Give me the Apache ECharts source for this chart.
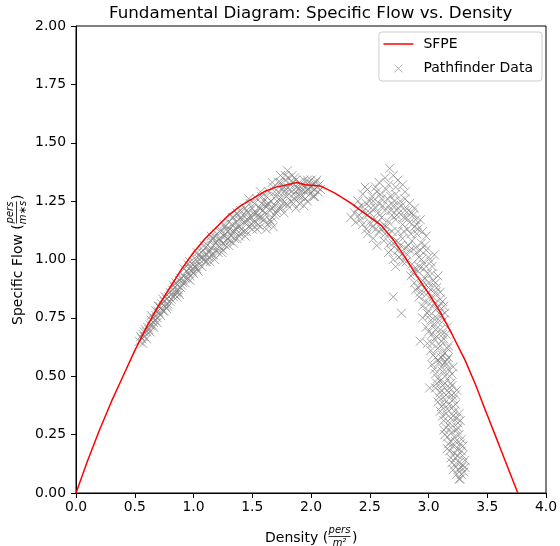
<!DOCTYPE html>
<html>
<head>
<meta charset="utf-8">
<script src="https://cdn.jsdelivr.net/npm/echarts@6/dist/echarts.min.js"></script>
<style>html,body{margin:0;padding:0;background:#fff}#c{width:560px;height:546px}</style>
</head>
<body>
<div id="c"></div>
<script>
const xTicks = [0.0, 0.5, 1.0, 1.5, 2.0, 2.5, 3.0, 3.5, 4.0];
const yTicks = [0.00, 0.25, 0.50, 0.75, 1.00, 1.25, 1.50, 1.75, 2.00];

// SFPE curve (density, specific flow)
const sfpe = [[0,0],[0.1,0.14],[0.2,0.27],[0.3,0.39],[0.4,0.50],[0.5,0.61],[0.6,0.71],[0.7,0.80],[0.8,0.88],[0.9,0.96],[1.0,1.03],[1.1,1.09],[1.2,1.14],[1.3,1.19],[1.4,1.23],[1.5,1.26],[1.6,1.29],[1.7,1.31],[1.8,1.32],[1.88,1.33],[1.95,1.32],[2.08,1.315],[2.2,1.285],[2.33,1.245],[2.45,1.20],[2.6,1.145],[2.7,1.085],[2.8,1.01],[2.9,0.93],[3.01,0.848],[3.1,0.775],[3.2,0.68],[3.31,0.57],[3.4,0.465],[3.46,0.385],[3.5,0.334],[3.6,0.206],[3.7,0.077],[3.76,0]];

// Pathfinder data, free-flow branch
const pathLeft = [
[0.54,0.65],[0.55,0.67],[0.56,0.66],[0.57,0.68],[0.58,0.67],[0.59,0.70],[0.60,0.69],[0.58,0.69],[0.61,0.71],[0.62,0.70],
[0.63,0.72],[0.64,0.74],[0.65,0.72],[0.66,0.75],[0.67,0.74],[0.68,0.76],[0.69,0.75],[0.70,0.78],[0.66,0.73],[0.68,0.78],[0.71,0.77],[0.70,0.80],
[0.72,0.79],[0.73,0.81],[0.74,0.78],[0.75,0.82],[0.76,0.80],[0.77,0.83],[0.78,0.81],[0.79,0.84],[0.80,0.82],[0.80,0.86],[0.74,0.83],[0.77,0.79],[0.81,0.85],
[0.82,0.87],[0.83,0.84],[0.84,0.88],[0.85,0.86],[0.86,0.89],[0.87,0.87],[0.88,0.91],[0.89,0.88],[0.90,0.92],[0.85,0.90],[0.88,0.85],[0.91,0.90],[0.86,0.84],
[0.92,0.93],[0.93,0.90],[0.94,0.95],[0.95,0.92],[0.96,0.96],[0.97,0.93],[0.98,0.97],[0.99,0.95],[1.00,0.99],[1.00,0.94],[0.95,0.98],[0.97,0.91],[1.01,0.97],
[1.02,1.00],[1.03,0.96],[1.04,1.02],[1.05,0.98],[1.06,1.01],[1.07,0.97],[1.08,1.04],[1.09,1.00],[1.10,1.05],[1.10,0.99],[1.04,0.95],[1.07,1.03],[1.11,1.02],
[1.12,1.06],[1.13,1.01],[1.14,1.04],[1.15,1.08],[1.16,1.02],[1.17,1.06],[1.18,1.10],[1.19,1.04],[1.20,1.08],[1.20,1.11],[1.14,0.99],[1.18,1.00],[1.21,1.06],[1.16,1.09],
[1.22,1.09],[1.23,1.05],[1.24,1.12],[1.25,1.07],[1.26,1.10],[1.27,1.14],[1.28,1.08],[1.29,1.12],[1.30,1.16],[1.30,1.06],[1.24,1.03],[1.27,1.11],[1.31,1.13],[1.26,1.15],
[1.32,1.10],[1.33,1.15],[1.34,1.18],[1.35,1.12],[1.36,1.16],[1.37,1.09],[1.38,1.19],[1.39,1.14],[1.40,1.21],[1.40,1.11],[1.34,1.07],[1.37,1.20],[1.41,1.17],[1.36,1.13],
[1.42,1.19],[1.43,1.12],[1.44,1.22],[1.45,1.16],[1.46,1.20],[1.47,1.14],[1.48,1.24],[1.49,1.18],[1.50,1.22],[1.50,1.13],[1.44,1.10],[1.47,1.26],[1.51,1.20],[1.46,1.17],
[1.52,1.24],[1.53,1.16],[1.54,1.26],[1.55,1.19],[1.56,1.22],[1.57,1.14],[1.58,1.27],[1.59,1.21],[1.60,1.25],[1.60,1.17],[1.54,1.13],[1.57,1.29],[1.61,1.23],[1.56,1.18],
[1.62,1.27],[1.63,1.15],[1.64,1.29],[1.65,1.21],[1.66,1.25],[1.67,1.18],[1.68,1.31],[1.69,1.23],[1.70,1.27],[1.70,1.20],[1.64,1.24],[1.67,1.33],[1.71,1.25],[1.66,1.16],[1.62,1.13],[1.68,1.14],
[1.72,1.29],[1.73,1.22],[1.74,1.33],[1.75,1.26],[1.76,1.30],[1.77,1.20],[1.78,1.34],[1.79,1.27],[1.80,1.31],[1.80,1.23],[1.74,1.36],[1.77,1.29],[1.81,1.35],[1.76,1.24],[1.80,1.38],
[1.82,1.30],[1.83,1.25],[1.84,1.33],[1.85,1.28],[1.86,1.35],[1.87,1.22],[1.88,1.31],[1.89,1.27],[1.90,1.33],[1.90,1.24],[1.84,1.36],[1.87,1.29],[1.91,1.30],[1.86,1.26],
[1.92,1.32],[1.93,1.27],[1.94,1.34],[1.95,1.29],[1.96,1.31],[1.97,1.25],[1.98,1.33],[1.99,1.28],[2.00,1.31],[2.00,1.34],[1.94,1.23],[1.97,1.30],
[2.01,1.29],[2.02,1.32],[2.03,1.30],[2.04,1.33],[2.05,1.31],[2.06,1.29],[2.07,1.32],[2.03,1.27],[2.08,1.30],
[0.57,0.64],[0.60,0.66],[0.63,0.69],[0.66,0.71],[0.69,0.73],[0.72,0.76],[0.75,0.78],[0.78,0.80],[0.81,0.83],[0.84,0.85],[0.87,0.86],[0.90,0.89],[0.93,0.92],[0.96,0.94],[0.99,0.96],
[1.02,0.97],[1.05,1.00],[1.08,1.01],[1.11,0.99],[1.13,1.03],[1.15,1.05],[1.17,1.02],[1.19,1.07],[1.21,1.03],[1.23,1.08],[1.25,1.04],[1.27,1.06],[1.29,1.09],[1.31,1.08],[1.33,1.12],
[1.35,1.09],[1.37,1.14],[1.39,1.10],[1.41,1.13],[1.43,1.16],[1.45,1.12],[1.47,1.18],[1.49,1.15],[1.51,1.16],[1.53,1.20],[1.55,1.15],[1.57,1.22],[1.59,1.18],[1.61,1.20],[1.63,1.23],
[1.65,1.17],[1.67,1.22],[1.69,1.19],[1.71,1.21],[1.73,1.26],[1.75,1.22],[1.77,1.31],[1.79,1.24],[1.81,1.28],[1.83,1.32],[1.85,1.24],[1.87,1.34],[1.89,1.30],[1.91,1.27],[1.93,1.30],
[1.95,1.26],[1.97,1.34],[1.99,1.31],[2.02,1.27],[2.05,1.34],[1.78,1.36],[1.72,1.33],[1.69,1.29],[1.58,1.24],[1.52,1.19],[1.45,1.21],[1.39,1.17],[1.33,1.18],[1.28,1.13],[1.22,1.12],
[1.15,1.10],[1.09,1.06],[1.03,1.03],[0.97,0.99],[0.92,0.96],[0.89,0.92],[0.83,0.89],[0.76,0.84],[0.71,0.80],[0.64,0.76]
];

// Pathfinder data, congested branch
const pathRight = [
[2.67,1.39],[2.63,1.35],[2.70,1.36],[2.58,1.33],[2.74,1.34],[2.66,1.32],[2.72,1.31],[2.78,1.32],[2.55,1.31],[2.80,1.29],
[2.44,1.28],[2.48,1.30],[2.52,1.27],[2.56,1.29],[2.60,1.26],[2.64,1.30],[2.68,1.27],[2.72,1.28],[2.76,1.25],[2.80,1.26],[2.84,1.24],[2.88,1.22],[2.50,1.25],[2.58,1.24],[2.66,1.23],[2.74,1.22],[2.46,1.31],
[2.34,1.18],[2.37,1.20],[2.40,1.22],[2.42,1.17],[2.45,1.21],[2.48,1.19],[2.51,1.22],[2.54,1.17],[2.57,1.20],[2.60,1.18],[2.63,1.21],[2.66,1.16],[2.69,1.19],[2.72,1.17],[2.75,1.20],[2.78,1.15],[2.81,1.18],[2.84,1.16],[2.87,1.19],[2.90,1.15],[2.93,1.17],[2.44,1.15],[2.52,1.14],[2.62,1.15],[2.70,1.23],[2.80,1.21],
[2.48,1.11],[2.53,1.09],[2.58,1.12],[2.62,1.08],[2.66,1.11],[2.70,1.07],[2.74,1.12],[2.78,1.09],[2.82,1.13],[2.86,1.08],[2.90,1.11],[2.94,1.07],[2.98,1.10],[2.64,1.14],[2.76,1.06],[2.88,1.14],[2.56,1.06],
[2.66,1.03],[2.70,1.00],[2.74,1.04],[2.78,0.99],[2.82,1.02],[2.86,0.98],[2.90,1.03],[2.94,1.00],[2.98,1.04],[3.02,0.99],[3.05,1.02],[2.80,1.05],[2.92,0.97],[2.72,0.97],
[2.85,0.93],[2.88,0.90],[2.91,0.95],[2.94,0.89],[2.97,0.92],[3.00,0.88],[3.03,0.94],[3.06,0.90],[3.08,0.93],[2.96,0.96],[3.02,0.87],[2.89,0.87],
[2.92,0.84],[2.95,0.80],[2.98,0.85],[3.01,0.81],[3.04,0.84],[3.07,0.79],[3.10,0.83],[3.13,0.80],[3.00,0.78],[3.06,0.86],
[2.70,0.84],[2.77,0.77],
[2.95,0.75],[2.98,0.71],[3.01,0.76],[3.04,0.72],[3.07,0.75],[3.10,0.70],[3.13,0.74],[3.16,0.71],[3.03,0.68],[3.09,0.77],[3.12,0.68],
[2.99,0.64],[3.02,0.61],[3.05,0.66],[3.08,0.62],[3.11,0.65],[3.14,0.60],[3.17,0.63],[3.06,0.58],[3.12,0.59],[2.93,0.65],
[3.03,0.55],[3.06,0.51],[3.09,0.56],[3.12,0.52],[3.15,0.55],[3.18,0.50],[3.21,0.54],[3.10,0.48],[3.16,0.57],[3.01,0.45],
[3.06,0.45],[3.09,0.41],[3.12,0.46],[3.15,0.42],[3.18,0.45],[3.21,0.40],[3.24,0.44],[3.13,0.38],[3.19,0.47],[3.10,0.43],
[3.10,0.35],[3.13,0.31],[3.16,0.36],[3.19,0.32],[3.22,0.35],[3.25,0.30],[3.15,0.28],[3.21,0.37],[3.26,0.34],
[3.14,0.25],[3.17,0.21],[3.20,0.26],[3.23,0.22],[3.26,0.25],[3.29,0.20],[3.18,0.18],[3.24,0.27],[3.28,0.23],
[3.19,0.15],[3.22,0.12],[3.25,0.16],[3.28,0.11],[3.31,0.14],[3.24,0.08],[3.27,0.06],[3.30,0.09],[3.22,0.17],[3.29,0.16],
[2.40,1.25],[2.43,1.23],[2.47,1.24],[2.50,1.20],[2.53,1.25],[2.55,1.22],[2.59,1.28],[2.61,1.23],[2.65,1.26],[2.68,1.21],[2.71,1.25],[2.73,1.19],[2.77,1.23],[2.79,1.18],[2.83,1.21],
[2.86,1.20],[2.89,1.17],[2.91,1.13],[2.95,1.12],[2.97,1.06],[2.93,1.04],[2.89,1.05],[2.85,1.11],[2.83,1.06],[2.79,1.12],[2.77,1.02],[2.73,1.08],[2.69,1.12],[2.67,1.07],[2.63,1.11],
[2.60,1.13],[2.57,1.16],[2.55,1.13],[2.50,1.16],[2.47,1.13],[2.41,1.19],[2.38,1.16],[2.68,1.04],[2.75,1.01],[2.81,0.99],[2.84,1.04],[2.88,0.96],[2.92,1.01],[2.96,0.98],[3.00,1.01],
[3.03,0.97],[2.99,0.94],[2.95,0.91],[2.91,0.88],[2.87,0.94],[2.93,0.86],[2.97,0.82],[3.00,0.90],[3.04,0.91],[3.07,0.88],[3.10,0.86],[3.05,0.81],[3.09,0.80],[3.12,0.82],[2.99,0.77],
[3.02,0.74],[3.06,0.70],[3.08,0.73],[3.11,0.76],[3.14,0.77],[3.15,0.68],[3.00,0.69],[3.03,0.64],[3.07,0.67],[3.10,0.63],[3.13,0.66],[3.16,0.62],[3.04,0.59],[3.08,0.57],[3.11,0.58],
[3.14,0.56],[3.17,0.58],[3.05,0.53],[3.08,0.49],[3.11,0.54],[3.14,0.50],[3.17,0.53],[3.20,0.51],[3.07,0.47],[3.11,0.44],[3.14,0.47],[3.17,0.43],[3.20,0.46],[3.23,0.42],[3.08,0.39],
[3.11,0.37],[3.14,0.40],[3.17,0.38],[3.20,0.42],[3.23,0.38],[3.12,0.33],[3.15,0.34],[3.18,0.30],[3.21,0.33],[3.24,0.32],[3.27,0.31],[3.13,0.27],[3.16,0.24],[3.19,0.28],[3.22,0.24],
[3.25,0.28],[3.27,0.21],[3.16,0.19],[3.19,0.22],[3.21,0.20],[3.25,0.19],[3.28,0.18],[3.20,0.13],[3.23,0.15],[3.26,0.13],[3.29,0.12],[3.21,0.10],[3.25,0.10],[3.28,0.08],[3.26,0.06],[3.31,0.11]
];

const FONT = 'DejaVu Sans';
const chart = echarts.init(document.getElementById('c'), null, {renderer: 'canvas'});
const crossPath = 'path://M0,0L10,10M10,0L0,10';
const legendCross = 'path://M0,0M35,14M11,3L19,11M19,3L11,11';
const legendLine = 'path://M0,0M35,14M0,6.25L30,6.25L30,7.75L0,7.75Z';

function fracGroup(x0, num, den) {
  return [
    {type:'text', x:x0+11.5, y:-7.5, style:{text:num, font:'italic 10px "DejaVu Sans"', fill:'#000', align:'center', verticalAlign:'middle'}},
    {type:'line', shape:{x1:x0+0.5, y1:-1.5, x2:x0+22.5, y2:-1.5}, style:{stroke:'#000', lineWidth:0.8}},
    {type:'text', x:x0+11.5, y:5, style:{text:den, font:'italic 10px "DejaVu Sans"', fill:'#000', align:'center', verticalAlign:'middle'}}
  ];
}

const option = {
  animation: false,
  backgroundColor: '#fff',
  title: {
    text: 'Fundamental Diagram: Specific Flow vs. Density',
    left: 109, top: 4, padding: 0,
    textStyle: {fontFamily: FONT, fontSize: 16.7, fontWeight: 'normal', color: '#000', lineHeight: 20}
  },
  legend: {
    orient: 'vertical', right: 18, top: 32,
    padding: [5, 9, 5, 4], itemGap: 10, itemWidth: 35, itemHeight: 14,
    backgroundColor: 'rgba(255,255,255,0.8)', borderColor: '#cccccc', borderWidth: 1, borderRadius: 3,
    textStyle: {fontFamily: FONT, fontSize: 14, color: '#000'},
    data: [
      {name: 'SFPE', icon: legendLine, itemStyle: {color: '#ff0000', borderWidth: 0}},
      {name: 'Pathfinder Data', icon: legendCross, itemStyle: {color: 'rgba(0,0,0,0)', borderColor: '#808080', borderWidth: 1, opacity: 0.6}}
    ]
  },
  grid: {left: 76, right: 14, top: 26, bottom: 53, show: true, borderColor: '#000', borderWidth: 1, backgroundColor: 'transparent', outerBoundsMode: 'none'},
  xAxis: {
    type: 'value', min: xTicks[0], max: xTicks[xTicks.length-1], interval: 0.5,
    axisLine: {show: true, onZero: false, lineStyle: {color: '#000', width: 1}},
    axisTick: {show: true, inside: false, length: 5, lineStyle: {color: '#000'}},
    splitLine: {show: false},
    axisLabel: {margin: 7, fontFamily: FONT, fontSize: 13.9, color: '#000', formatter: v => v.toFixed(1)}
  },
  yAxis: {
    type: 'value', min: yTicks[0], max: yTicks[yTicks.length-1], interval: 0.25,
    axisLine: {show: true, onZero: false, lineStyle: {color: '#000', width: 1}},
    axisTick: {show: true, inside: false, length: 5, lineStyle: {color: '#000'}},
    splitLine: {show: false},
    axisLabel: {margin: 10, fontFamily: FONT, fontSize: 13.9, color: '#000', formatter: v => v.toFixed(2)}
  },
  graphic: [
    {type:'group', x:311, y:538, children: [
      {type:'text', x:-46, y:0, style:{text:'Density (', font:'14px "DejaVu Sans"', fill:'#000', align:'left', verticalAlign:'middle'}},
      ...fracGroup(17, 'pers', 'm²'),
      {type:'text', x:41, y:0, style:{text:')', font:'14px "DejaVu Sans"', fill:'#000', align:'left', verticalAlign:'middle'}}
    ]},
    {type:'group', x:18, y:259, rotation: Math.PI/2, children: [
      {type:'text', x:-66, y:0, style:{text:'Specific Flow (', font:'14px "DejaVu Sans"', fill:'#000', align:'left', verticalAlign:'middle'}},
      ...fracGroup(35, 'pers', 'm∗s'),
      {type:'text', x:59, y:0, style:{text:')', font:'14px "DejaVu Sans"', fill:'#000', align:'left', verticalAlign:'middle'}}
    ]}
  ],
  series: [
    {
      name: 'SFPE', type: 'line', data: sfpe, showSymbol: false, symbol: 'none',
      lineStyle: {color: '#ff0000', width: 1.5}, itemStyle: {color: '#ff0000'}, z: 3
    },
    {
      name: 'Pathfinder Data', type: 'scatter', symbol: crossPath, symbolSize: 9,
      data: pathLeft.concat(pathRight),
      itemStyle: {color: 'rgba(0,0,0,0)', borderColor: '#808080', borderWidth: 1, opacity: 0.7}, z: 2
    }
  ]
};
chart.setOption(option);
</script>
</body>
</html>
